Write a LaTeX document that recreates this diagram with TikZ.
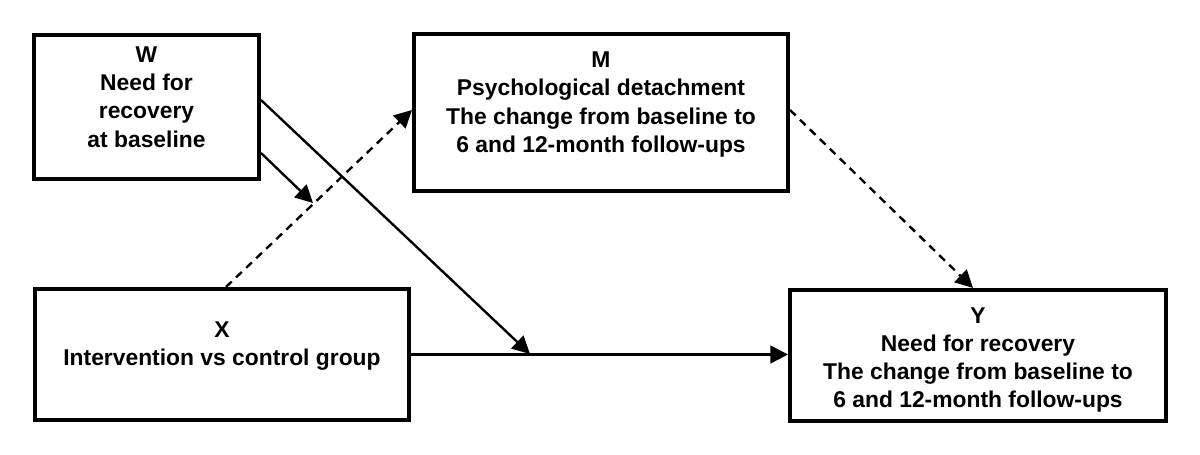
\documentclass[tikz,border=0pt]{standalone}
\usepackage{fontspec}
\setmainfont{Liberation Sans}
\usetikzlibrary{arrows.meta}
\usetikzlibrary{positioning}

\begin{document}
\begin{tikzpicture}[x=0.02cm, y=-0.02cm,
    >={Triangle[length=10pt, width=10pt]},
    box/.style={draw, line width=2.3pt, inner sep=0pt},
    txt/.style={align=center, font=\fontsize{13}{16.1}\selectfont\bfseries, inner sep=0pt},
    path/.style={line width=1.35pt},
    dpath/.style={path, dash pattern=on 4.5pt off 3.4pt}]
    \useasboundingbox (0, 0) rectangle (1200, 455);

    \node(w) [box, minimum width=4.5cm, minimum height=2.88cm] at (146.5, 107) {};
    \node(m) [box, minimum width=7.48cm, minimum height=3.14cm] at (601, 112.5) {};
    \node(x) [box, minimum width=7.48cm, minimum height=2.62cm] at (222, 354.5) {};
    \node(y) [box, minimum width=7.52cm, minimum height=2.62cm] at (978, 355.5) {};

    \node(wt) [txt] at ([yshift=0.20cm]w.center) {W\\Need for\\recovery\\at baseline};
    \node(mt) [txt] at ([yshift=0.16cm]m.center) {M\\Psychological detachment\\The change from baseline to\\6 and 12-month follow-ups};
    \node(xt) [txt] at ([yshift=0.17cm]x.center) {X\\Intervention vs control group};
    \node(yt) [txt] at ([yshift=-0.09cm]y.center) {Y\\Need for recovery\\The change from baseline to\\6 and 12-month follow-ups};

    \coordinate (xy) at (530, 354);
    \coordinate (xm) at (313, 203);

    \draw[->, path] (x.east) -- (x.east -| y.west);
    \draw[->, path] ([yshift=0.14cm]w.east) -- (xy);
    \draw[->, path] ([yshift=-0.92cm]w.east) -- (xm);
    \draw[->, dpath] ([xshift=0.08cm]x.north) -- ([yshift=0.05cm]m.west);
    \draw[->, dpath] ([yshift=0.05cm]m.east) -- ([xshift=-0.1cm]y.north);
  \end{tikzpicture}
\end{document}
